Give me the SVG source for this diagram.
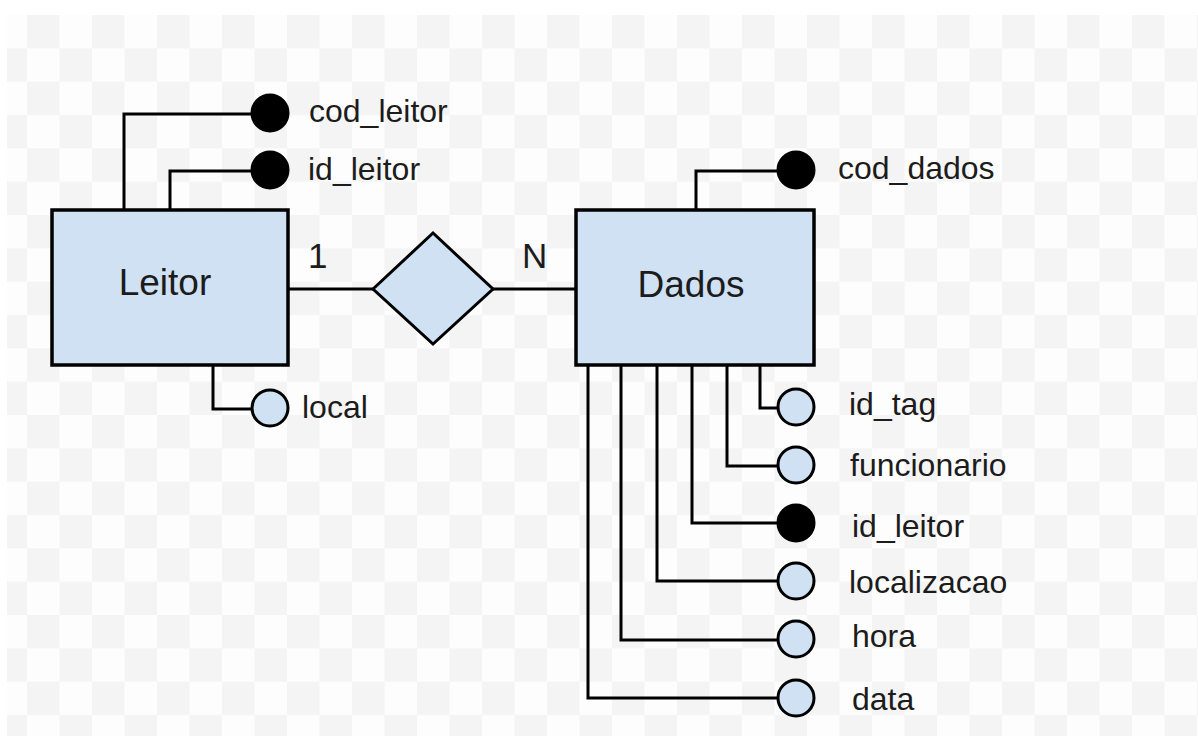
<svg xmlns="http://www.w3.org/2000/svg" width="1198" height="736" viewBox="0 0 1198 736">
  <style>
    .ent { fill: #cfe1f3; stroke: #000; stroke-width: 3.5; }
    .rel { fill: #cfe1f3; stroke: #000; stroke-width: 3; stroke-linejoin: miter; }
    .wire { fill: none; stroke: #000; stroke-width: 3; }
    .attr { fill: #cfe1f3; stroke: #000; stroke-width: 3; }
    .key { fill: #000; stroke: #000; stroke-width: 3; }
    .name { font-family: "Liberation Sans", Arial, sans-serif; font-size: 37px; fill: #1c1c1c; }
    .lbl { font-family: "Liberation Sans", Arial, sans-serif; font-size: 32px; fill: #1c1c1c; }
    .card { font-family: "Liberation Sans", Arial, sans-serif; font-size: 35px; fill: #1c1c1c; }
  </style>
  <defs>
    <pattern id="checker" x="27" y="15" width="65" height="66.67" patternUnits="userSpaceOnUse">
      <rect width="65" height="66.67" fill="#fdfdfd"/>
      <rect x="0" y="0" width="32.5" height="33.33" fill="#f4f4f4"/>
      <rect x="32.5" y="33.33" width="32.5" height="33.34" fill="#f4f4f4"/>
    </pattern>
  </defs>

  <!-- canvas -->
  <rect width="1198" height="736" fill="#ffffff"/>
  <rect x="7" y="15" width="1191" height="721" fill="url(#checker)"/>

  <!-- connectors -->
  <g id="connectors" class="wire">
    <path d="M288 289 H373"/>
    <path d="M493 289 H576"/>
    <!-- Leitor attributes -->
    <path d="M124 210 V114 H252"/>
    <path d="M170 210 V171 H252"/>
    <path d="M213 365 V409 H252"/>
    <!-- Dados attributes -->
    <path d="M696 210 V171 H778"/>
    <path d="M760 365 V408 H778"/>
    <path d="M727 365 V466 H778"/>
    <path d="M692 365 V523 H778"/>
    <path d="M657 365 V581 H778"/>
    <path d="M621 365 V640 H778"/>
    <path d="M588 365 V698 H778"/>
  </g>

  <!-- entities -->
  <g id="leitor">
    <rect class="ent" x="52" y="210" width="236" height="155"/>
    <text class="name" x="165" y="295" text-anchor="middle">Leitor</text>
  </g>
  <g id="dados">
    <rect class="ent" x="576" y="210" width="238" height="155"/>
    <text class="name" x="691" y="297" text-anchor="middle">Dados</text>
  </g>

  <!-- relationship -->
  <g id="relacao">
    <polygon class="rel" points="373,289 433,233 493,289 433,344"/>
  </g>
  <g id="card-1"><text class="card" x="308" y="268">1</text></g>
  <g id="card-n"><text class="card" x="522" y="268">N</text></g>

  <!-- Leitor attributes -->
  <g id="attr-cod-leitor">
    <circle class="key" cx="270" cy="113" r="18"/>
    <text class="lbl" x="309" y="122">cod_leitor</text>
  </g>
  <g id="attr-id-leitor">
    <circle class="key" cx="270" cy="170" r="18"/>
    <text class="lbl" x="308" y="180">id_leitor</text>
  </g>
  <g id="attr-local">
    <circle class="attr" cx="270" cy="408" r="18"/>
    <text class="lbl" x="302" y="418">local</text>
  </g>

  <!-- Dados attributes -->
  <g id="attr-cod-dados">
    <circle class="key" cx="796" cy="170" r="18"/>
    <text class="lbl" x="838" y="179">cod_dados</text>
  </g>
  <g id="attr-id-tag">
    <circle class="attr" cx="796" cy="407" r="18"/>
    <text class="lbl" x="849" y="415">id_tag</text>
  </g>
  <g id="attr-funcionario">
    <circle class="attr" cx="796" cy="465" r="18"/>
    <text class="lbl" x="850" y="476">funcionario</text>
  </g>
  <g id="attr-dados-id-leitor">
    <circle class="key" cx="796" cy="523" r="18"/>
    <text class="lbl" x="852" y="537">id_leitor</text>
  </g>
  <g id="attr-localizacao">
    <circle class="attr" cx="796" cy="581" r="18"/>
    <text class="lbl" x="849" y="593">localizacao</text>
  </g>
  <g id="attr-hora">
    <circle class="attr" cx="796" cy="639" r="18"/>
    <text class="lbl" x="852" y="647">hora</text>
  </g>
  <g id="attr-data">
    <circle class="attr" cx="796" cy="698" r="18"/>
    <text class="lbl" x="852" y="710">data</text>
  </g>
</svg>
